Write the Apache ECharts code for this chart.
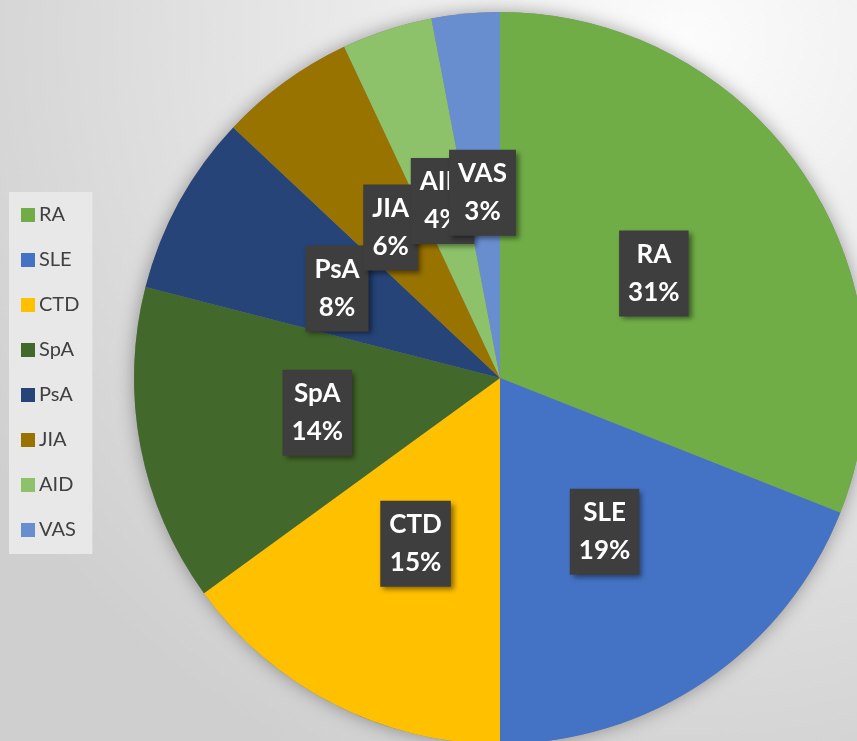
<!DOCTYPE html>
<html>
<head>
<meta charset="utf-8">
<script src="https://cdn.jsdelivr.net/npm/echarts@6/dist/echarts.min.js"></script>
<style>
  html, body { margin: 0; padding: 0; }
  #pie { width: 857px; height: 741px; }
</style>
</head>
<body>
<div id="pie"></div>
<script>
var names = ['RA', 'SLE', 'CTD', 'SpA', 'PsA', 'JIA', 'AID', 'VAS']
var shares = [31, 19, 15, 14, 8, 6, 4, 3]
var colors = ['#70AD47', '#4472C4', '#FFC000', '#43682B', '#264478', '#997300', '#8DC26A', '#698ED0']

var myChart = echarts.init(document.getElementById('pie'))

var pieData = names.map(function(n, i) {
  return { name: n, value: shares[i] }
})

var option = {
  backgroundColor: {
    type: 'radial',
    x: 0.8,
    y: 0.05,
    r: 1.1,
    colorStops: [
      { offset: 0, color: '#fcfcfc' },
      { offset: 1, color: '#cfcfcf' }
    ]
  },
  color: colors,
  legend: {
    orient: 'vertical',
    left: 9,
    top: 192,
    padding: [13, 13, 14, 12],
    backgroundColor: '#e8e8e8',
    icon: 'rect',
    itemWidth: 14,
    itemHeight: 14,
    itemGap: 25,
    textStyle: {
      fontFamily: 'Lato',
      fontSize: 20,
      color: '#404040',
      padding: [0, 0, 0, -1]
    },
    data: names
  },
  series: [
    {
      // shadow underneath the whole pie
      type: 'pie',
      silent: true,
      center: [500, 378],
      radius: 366,
      label: { show: false },
      labelLine: { show: false },
      itemStyle: {
        color: '#888',
        shadowBlur: 18,
        shadowColor: 'rgba(0,0,0,0.35)'
      },
      data: [{ name: 'shadow', value: 1 }],
      z: 1
    },
    {
      type: 'pie',
      center: [500, 378],
      radius: 366,
      startAngle: 90,
      clockwise: true,
      avoidLabelOverlap: false,
      labelLayout: { hideOverlap: false },
      z: 2,
      label: {
        show: true,
        position: 'inside',
        formatter: '{b}\n{c}%',
        fontFamily: 'Lato',
        fontWeight: 'bold',
        fontSize: 26,
        lineHeight: 38,
        color: '#ffffff',
        backgroundColor: '#3e3e3e',
        padding: [5, 9, 5, 9],
        shadowColor: 'rgba(0,0,0,0.45)',
        shadowBlur: 5,
        shadowOffsetX: 3,
        shadowOffsetY: 3
      },
      labelLine: { show: false },
      emphasis: { disabled: true },
      data: pieData
    }
  ]
}
myChart.setOption(option)
</script>
</body>
</html>
